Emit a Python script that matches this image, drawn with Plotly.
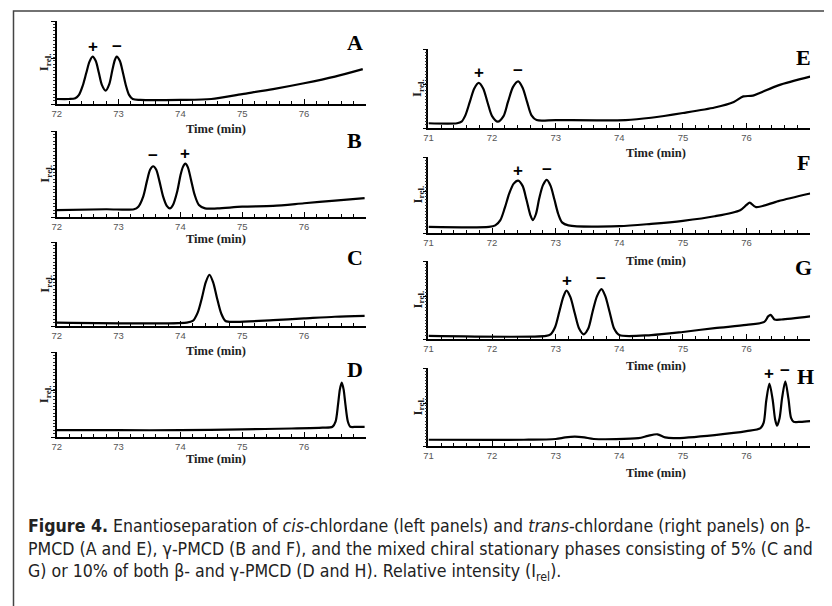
import plotly.graph_objects as go

# the page body has an 8px margin, so the figure is drawn 8px in from the corner
OFF = 8
W, H = 832 - OFF, 606 - OFF

# ---------------- data (time in min, relative intensity) ----------------
A_t = [72.00, 72.20, 72.30, 72.36, 72.42, 72.48, 72.53, 72.58, 72.63, 72.68, 72.73, 72.79,
       72.85, 72.90, 72.94, 72.97, 73.02, 73.07, 73.12, 73.17, 73.23, 73.35, 74.00, 74.50,
       75.00, 75.50, 76.00, 76.50, 76.95]
A_i = [0.06, 0.06, 0.07, 0.11, 0.22, 0.38, 0.51, 0.57, 0.52, 0.38, 0.23, 0.16,
       0.24, 0.41, 0.53, 0.57, 0.52, 0.38, 0.22, 0.11, 0.06, 0.05, 0.05, 0.06,
       0.12, 0.18, 0.25, 0.33, 0.42]

B_t = [72.00, 72.80, 73.25, 73.32, 73.40, 73.46, 73.51, 73.56, 73.61, 73.66, 73.72, 73.78,
       73.83, 73.88, 73.95, 74.00, 74.04, 74.08, 74.12, 74.17, 74.23, 74.30, 74.40, 74.60,
       75.00, 75.50, 76.00, 76.50, 76.98]
B_i = [0.08, 0.09, 0.09, 0.12, 0.24, 0.42, 0.55, 0.59, 0.55, 0.42, 0.24, 0.13,
       0.10, 0.14, 0.30, 0.48, 0.58, 0.62, 0.58, 0.44, 0.26, 0.14, 0.10, 0.10,
       0.12, 0.13, 0.16, 0.19, 0.22]

C_t = [72.00, 74.10, 74.20, 74.28, 74.35, 74.41, 74.47, 74.53, 74.59, 74.66, 74.73, 74.90,
       75.50, 76.00, 76.50, 76.98]
C_i = [0.04, 0.04, 0.06, 0.16, 0.34, 0.52, 0.61, 0.52, 0.34, 0.15, 0.06, 0.05,
       0.07, 0.09, 0.11, 0.12]

D_t = [72.00, 73.00, 74.00, 75.00, 75.80, 76.30, 76.46, 76.51, 76.55, 76.58, 76.61, 76.64,
       76.67, 76.71, 76.75, 76.85, 76.98]
D_i = [0.08, 0.08, 0.08, 0.09, 0.10, 0.11, 0.12, 0.18, 0.38, 0.56, 0.64, 0.56,
       0.38, 0.18, 0.12, 0.12, 0.12]

E_t = [71.00, 71.45, 71.52, 71.58, 71.65, 71.72, 71.79, 71.86, 71.93, 72.00, 72.09, 72.18,
       72.25, 72.33, 72.41, 72.48, 72.55, 72.62, 72.70, 73.00, 74.10, 74.50, 75.00, 75.50,
       75.80, 75.95, 76.10, 76.50, 77.00]
E_i = [0.06, 0.06, 0.08, 0.16, 0.33, 0.50, 0.57, 0.50, 0.32, 0.15, 0.08, 0.15,
       0.33, 0.52, 0.59, 0.51, 0.33, 0.16, 0.10, 0.10, 0.10, 0.13, 0.19, 0.26,
       0.33, 0.40, 0.41, 0.54, 0.65]

F_t = [71.00, 71.95, 72.05, 72.13, 72.20, 72.27, 72.34, 72.41, 72.48, 72.54, 72.60, 72.64,
       72.69, 72.74, 72.80, 72.86, 72.92, 72.98, 73.04, 73.10, 73.20, 74.00, 74.50, 75.00,
       75.50, 75.90, 76.00, 76.05, 76.15, 76.50, 77.00]
F_i = [0.08, 0.08, 0.10, 0.17, 0.33, 0.52, 0.65, 0.69, 0.62, 0.44, 0.24, 0.17,
       0.25, 0.45, 0.63, 0.70, 0.62, 0.44, 0.25, 0.14, 0.10, 0.09, 0.12, 0.16,
       0.22, 0.30, 0.37, 0.40, 0.34, 0.42, 0.52]

G_t = [71.00, 72.85, 72.92, 72.99, 73.06, 73.12, 73.17, 73.23, 73.30, 73.37, 73.44, 73.51,
       73.58, 73.65, 73.72, 73.78, 73.85, 73.92, 74.00, 74.50, 75.00, 75.50, 76.00, 76.28,
       76.34, 76.38, 76.44, 76.55, 77.00]
G_i = [0.04, 0.04, 0.06, 0.15, 0.36, 0.54, 0.62, 0.54, 0.33, 0.13, 0.06, 0.13,
       0.35, 0.55, 0.64, 0.55, 0.34, 0.13, 0.05, 0.05, 0.09, 0.14, 0.18, 0.22,
       0.29, 0.31, 0.25, 0.25, 0.29]

H_t = [71.00, 72.50, 73.00, 73.15, 73.30, 73.45, 73.60, 74.30, 74.45, 74.60, 74.72, 74.85,
       75.50, 76.00, 76.22, 76.27, 76.31, 76.36, 76.41, 76.45, 76.48, 76.52, 76.56, 76.61,
       76.66, 76.70, 76.74, 76.85, 77.00]
H_i = [0.08, 0.08, 0.09, 0.11, 0.12, 0.11, 0.09, 0.10, 0.13, 0.15, 0.11, 0.10,
       0.14, 0.19, 0.23, 0.30, 0.58, 0.80, 0.60, 0.34, 0.26, 0.36, 0.62, 0.83,
       0.60, 0.36, 0.31, 0.31, 0.32]

left_ticks = [72, 73, 74, 75, 76]
right_ticks = [71, 72, 73, 74, 75, 76]

# peak sign labels: (sign, retention time)
A_marks = [("+", 72.58), ("\u2212", 72.97)]
B_marks = [("\u2212", 73.56), ("+", 74.08)]
C_marks = []
D_marks = []
E_marks = [("+", 71.79), ("\u2212", 72.41)]
F_marks = [("+", 72.41), ("\u2212", 72.86)]
G_marks = [("+", 73.17), ("\u2212", 73.72)]
H_marks = [("+", 76.36), ("\u2212", 76.61)]

caption_lines = [
    "<b>Figure 4.</b> Enantioseparation of <i>cis</i>-chlordane (left panels) and "
    "<i>trans</i>-chlordane (right panels) on \u03b2-",
    "PMCD (A and E), \u03b3-PMCD (B and F), and the mixed chiral stationary phases "
    "consisting of 5% (C and",
    "G) or 10% of both \u03b2- and \u03b3-PMCD (D and H). Relative intensity (I<sub>rel</sub>).",
]

# ---------------- layout helpers (screen pixels -> paper fraction) ----------------
def px(x):
    return (x - OFF) / W

def py(y):
    return 1 - (y - OFF) / H

panels = [
    dict(letter="A", t=A_t, i=A_i, side="L", top=21, bot=104, marks=A_marks, lab=(352, 43), ttl=129),
    dict(letter="B", t=B_t, i=B_i, side="L", top=131, bot=217, marks=B_marks, lab=(352, 141), ttl=239),
    dict(letter="C", t=C_t, i=C_i, side="L", top=242, bot=326, marks=C_marks, lab=(352, 258), ttl=351),
    dict(letter="D", t=D_t, i=D_i, side="L", top=352, bot=437, marks=D_marks, lab=(352, 369), ttl=459),
    dict(letter="E", t=E_t, i=E_i, side="R", top=49, bot=128, marks=E_marks, lab=(803, 58), ttl=153),
    dict(letter="F", t=F_t, i=F_i, side="R", top=157, bot=233, marks=F_marks, lab=(803, 163), ttl=261),
    dict(letter="G", t=G_t, i=G_i, side="R", top=261, bot=339, marks=G_marks, lab=(803, 267), ttl=366),
    dict(letter="H", t=H_t, i=H_i, side="R", top=368, bot=446, marks=H_marks, lab=(805, 376), ttl=473),
]

fig = go.Figure()
layout = dict(
    width=W, height=H,
    margin=dict(l=0, r=0, t=0, b=0),
    paper_bgcolor="white", plot_bgcolor="white",
    showlegend=False,
)
annotations = []

tickfont = dict(family="Liberation Sans, Arial, sans-serif", size=9.5, color="#555555")
serif = "Liberation Serif, Times New Roman, serif"

for k, p in enumerate(panels, start=1):
    xa = "x" if k == 1 else f"x{k}"
    ya = "y" if k == 1 else f"y{k}"
    if p["side"] == "L":
        xdom = [px(52), px(363)]
        xr = [72, 77]
        tv = left_ticks
        ttl_x = 212
        ylab_x = 40
    else:
        xdom = [px(426), px(810)]
        xr = [71, 77]
        tv = right_ticks
        ttl_x = 655
        ylab_x = 415
    ydom = [py(p["bot"]), py(p["top"])]

    fig.add_trace(go.Scatter(
        x=p["t"], y=p["i"], mode="lines",
        line=dict(color="black", width=2.2, shape="spline", smoothing=0.8),
        xaxis=xa, yaxis=ya, hoverinfo="skip",
    ))

    layout["xaxis" if k == 1 else f"xaxis{k}"] = dict(
        domain=xdom, range=xr, anchor=ya,
        showline=True, linecolor="black", linewidth=1.6,
        showgrid=False, zeroline=False,
        tickmode="array", tickvals=tv, ticktext=[str(v) for v in tv],
        ticks="inside", ticklen=5, tickwidth=1.3, tickcolor="black",
        tickfont=tickfont, ticklabelstandoff=0,
        minor=dict(tickmode="linear", tick0=xr[0], dtick=0.2, ticks="inside",
                   ticklen=3, tickwidth=1, tickcolor="black"),
        fixedrange=True,
    )
    layout["yaxis" if k == 1 else f"yaxis{k}"] = dict(
        domain=ydom, range=[0, 1], anchor=xa,
        showline=True, linecolor="black", linewidth=1.6,
        showgrid=False, zeroline=False, showticklabels=False,
        tickmode="array", tickvals=[0, 0.55, 1.0],
        ticks="outside", ticklen=4, tickwidth=1.2, tickcolor="black",
        minor=dict(tickmode="linear", tick0=0, dtick=0.04, ticks="outside",
                   ticklen=2, tickwidth=1, tickcolor="#333333"),
        fixedrange=True,
    )

    # y-axis label
    annotations.append(dict(
        xref="paper", yref="paper", x=px(ylab_x), y=py((p["top"] + p["bot"]) / 2),
        text="<b>I<sub>rel.</sub></b>", textangle=-90, showarrow=False,
        font=dict(family=serif, size=13, color="#222222"),
        xanchor="center", yanchor="middle",
    ))
    # x-axis title
    annotations.append(dict(
        xref="paper", yref="paper", x=px(ttl_x), y=py(p["ttl"]),
        text="<b>Time (min)</b>", showarrow=False,
        font=dict(family=serif, size=12.5, color="#222222"),
        xanchor="center", yanchor="middle",
    ))
    # panel letter
    annotations.append(dict(
        xref="paper", yref="paper", x=px(p["lab"][0]), y=py(p["lab"][1]),
        text=f"<b>{p['letter']}</b>", showarrow=False,
        font=dict(family=serif, size=22, color="black"),
        xanchor="center", yanchor="middle",
    ))
    # peak sign labels
    for sign, tm in p["marks"]:
        near = [v for tt_, v in zip(p["t"], p["i"]) if abs(tt_ - tm) < 0.03]
        annotations.append(dict(
            xref=xa, yref=ya, x=tm, y=max(near),
            text=f"<b>{sign}</b>", showarrow=False,
            font=dict(family="Liberation Sans, Arial, sans-serif", size=17, color="black"),
            xanchor="center", yanchor="bottom", yshift=-1,
        ))

cap_font = dict(family="Liberation Sans Narrow, DejaVu Sans Condensed, Arial Narrow, sans-serif",
                size=17.6, color="#222222")
for line, yy in zip(caption_lines, [526, 549, 572]):
    annotations.append(dict(
        xref="paper", yref="paper", x=px(21), y=py(yy),
        text=line, showarrow=False, font=cap_font,
        xanchor="left", yanchor="middle", align="left",
    ))

layout["annotations"] = annotations
layout["shapes"] = [dict(
    type="rect", xref="paper", yref="paper",
    x0=px(8.5), x1=1.05, y0=-0.05, y1=py(11),
    line=dict(color="#444444", width=1.5), fillcolor="rgba(0,0,0,0)", layer="below",
)]

fig.update_layout(**layout)
fig.write_html("out.html")
